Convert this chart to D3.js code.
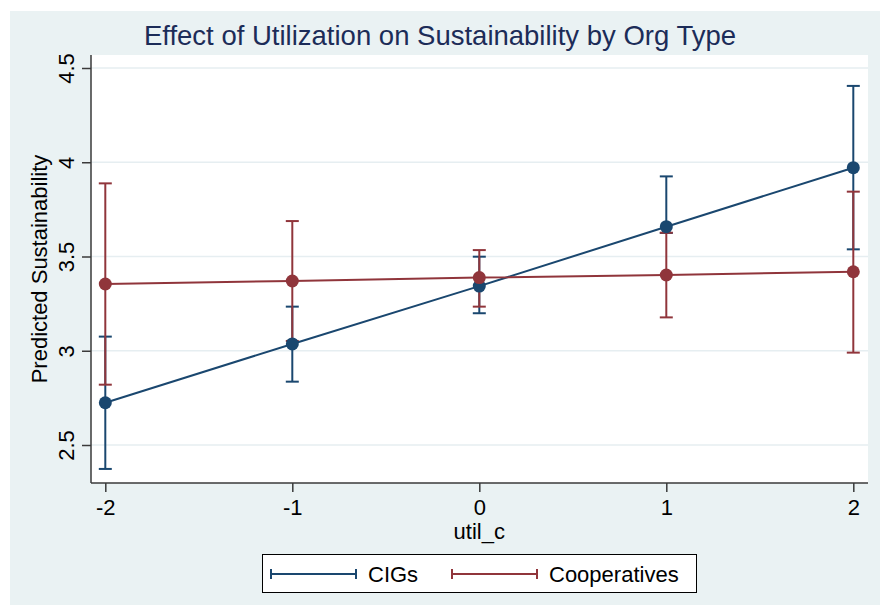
<!DOCTYPE html>
<meta charset="utf-8">
<script src="https://d3js.org/d3.v7.min.js"></script>
<style>
body { margin: 0; background: #fff; }
svg { display: block; font-family: "Liberation Sans", Arial, sans-serif; }
</style>
<body>
<script>

// margins data
var xVals = [-2, -1, 0, 1, 2];
var xTicks = [-2, -1, 0, 1, 2];
var yTicks = [2.5, 3, 3.5, 4, 4.5];
var yTickLabels = ["2.5", "3", "3.5", "4", "4.5"];

var cigMean = [2.724, 3.036, 3.343, 3.658, 3.971];
var cigLow  = [2.373, 2.836, 3.199, 3.625, 3.538];
var cigHigh = [3.075, 3.234, 3.499, 3.925, 4.405];

var coopMean = [3.354, 3.370, 3.388, 3.402, 3.419];
var coopLow  = [2.820, 3.052, 3.234, 3.177, 2.990];
var coopHigh = [3.888, 3.688, 3.534, 3.626, 3.844];

var seriesNames = ["CIGs", "Cooperatives"];
var navy = "#1a476f", maroon = "#90353b";

var width = 880, height = 605;
var plot = {left: 91, right: 868, top: 55, bottom: 483};

var svg = d3.select("body").append("svg")
  .attr("width", width)
  .attr("height", height);

// graph region
svg.append("rect")
  .attr("x", 10).attr("y", 11)
  .attr("width", width - 10).attr("height", height - 11)
  .attr("fill", "#eaf2f3");

// plot region
svg.append("rect")
  .attr("x", plot.left).attr("y", plot.top)
  .attr("width", plot.right - plot.left).attr("height", plot.bottom - plot.top)
  .attr("fill", "#fff");

var xScale = d3.scaleLinear().domain([-2, 2]).range([105.3, 853.3]);
var yScale = d3.scaleLinear().domain([2.5, 4.5]).range([445, 68]);

// gridlines
svg.selectAll(".grid")
  .data(yTicks).enter().append("line")
  .attr("class", "grid")
  .attr("x1", plot.left).attr("x2", plot.right)
  .attr("y1", function(d) { return yScale(d); })
  .attr("y2", function(d) { return yScale(d); })
  .attr("stroke", "#e6eef1")
  .attr("stroke-width", 1.5);

// axes
var yAxis = d3.axisLeft(yScale)
  .tickValues(yTicks)
  .tickSize(9)
  .tickPadding(0)
  .tickFormat(function(d, i) { return yTickLabels[i]; });

var gy = svg.append("g")
  .attr("transform", "translate(" + plot.left + ",0)")
  .call(yAxis);
gy.select(".domain").remove();
gy.append("line")
  .attr("x1", 0).attr("x2", 0)
  .attr("y1", plot.top).attr("y2", plot.bottom)
  .attr("stroke", "#3a3a3a").attr("stroke-width", 1.5);
gy.selectAll(".tick line").attr("stroke", "#3a3a3a").attr("stroke-width", 1.5);
gy.selectAll(".tick text")
  .attr("x", null).attr("dy", null)
  .attr("transform", "translate(-17,0) rotate(-90)")
  .attr("text-anchor", "middle")
  .attr("fill", "#000")
  .style("font-size", "22px")
  .style("font-family", "Liberation Sans, Arial, sans-serif");

var xAxis = d3.axisBottom(xScale)
  .tickValues(xTicks)
  .tickSize(9)
  .tickPadding(0)
  .tickFormat(d3.format("d"));

var gx = svg.append("g")
  .attr("transform", "translate(0," + plot.bottom + ")")
  .call(xAxis);
gx.select(".domain").remove();
gx.append("line")
  .attr("x1", plot.left).attr("x2", plot.right)
  .attr("y1", 0).attr("y2", 0)
  .attr("stroke", "#3a3a3a").attr("stroke-width", 1.5);
gx.selectAll(".tick line").attr("stroke", "#3a3a3a").attr("stroke-width", 1.5);
gx.selectAll(".tick text")
  .attr("y", 32).attr("dy", null)
  .attr("fill", "#000")
  .style("font-size", "22px")
  .style("font-family", "Liberation Sans, Arial, sans-serif")
  .text(function(d) { return d < 0 ? "-" + Math.abs(d) : d; });

// axis titles
svg.append("text")
  .attr("x", xScale(0)).attr("y", 539)
  .attr("text-anchor", "middle")
  .style("font-size", "22px")
  .text("util_c");

svg.append("text")
  .attr("transform", "translate(47," + ((plot.top + plot.bottom) / 2) + ") rotate(-90)")
  .attr("text-anchor", "middle")
  .style("font-size", "22px")
  .text("Predicted Sustainability");

// title
svg.append("text")
  .attr("x", 440).attr("y", 45)
  .attr("text-anchor", "middle")
  .attr("fill", "#1c2c58")
  .style("font-size", "27.5px")
  .text("Effect of Utilization on Sustainability by Org Type");

// series
var series = [
  {name: seriesNames[0], color: navy, mean: cigMean, low: cigLow, high: cigHigh},
  {name: seriesNames[1], color: maroon, mean: coopMean, low: coopLow, high: coopHigh}
];

var capHalf = 6.5;

function drawCI(s) {
  var g = svg.append("g").attr("stroke", s.color).attr("stroke-width", 2);
  xVals.forEach(function(x, i) {
    var cx = xScale(x);
    g.append("line").attr("x1", cx).attr("x2", cx)
      .attr("y1", yScale(s.low[i])).attr("y2", yScale(s.high[i]));
    g.append("line").attr("x1", cx - capHalf).attr("x2", cx + capHalf)
      .attr("y1", yScale(s.low[i])).attr("y2", yScale(s.low[i]));
    g.append("line").attr("x1", cx - capHalf).attr("x2", cx + capHalf)
      .attr("y1", yScale(s.high[i])).attr("y2", yScale(s.high[i]));
  });
}

function drawLine(s) {
  var pts = xVals.map(function(x, i) { return [x, s.mean[i]]; });
  var line = d3.line()
    .x(function(d) { return xScale(d[0]); })
    .y(function(d) { return yScale(d[1]); });
  svg.append("path")
    .datum(pts)
    .attr("d", line)
    .attr("fill", "none")
    .attr("stroke", s.color)
    .attr("stroke-width", 2);
  svg.selectAll(null)
    .data(pts).enter().append("circle")
    .attr("cx", function(d) { return xScale(d[0]); })
    .attr("cy", function(d) { return yScale(d[1]); })
    .attr("r", 6.5)
    .attr("fill", s.color);
}

series.forEach(drawCI);
series.forEach(drawLine);

// legend
var lg = svg.append("g");
lg.append("rect")
  .attr("x", 262.5).attr("y", 554.5)
  .attr("width", 434).attr("height", 38)
  .attr("fill", "#fff")
  .attr("stroke", "#000")
  .attr("stroke-width", 1);

var legendX = [271, 452];
series.forEach(function(s, i) {
  var x0 = legendX[i], x1 = x0 + 85;
  var g = lg.append("g").attr("stroke", s.color).attr("stroke-width", 2);
  g.append("line").attr("x1", x0).attr("x2", x1).attr("y1", 574).attr("y2", 574);
  g.append("line").attr("x1", x0).attr("x2", x0).attr("y1", 569).attr("y2", 579);
  g.append("line").attr("x1", x1).attr("x2", x1).attr("y1", 569).attr("y2", 579);
  lg.append("text")
    .attr("x", x1 + 12).attr("y", 582)
    .style("font-size", "22px")
    .text(s.name);
});

</script>
</body>
